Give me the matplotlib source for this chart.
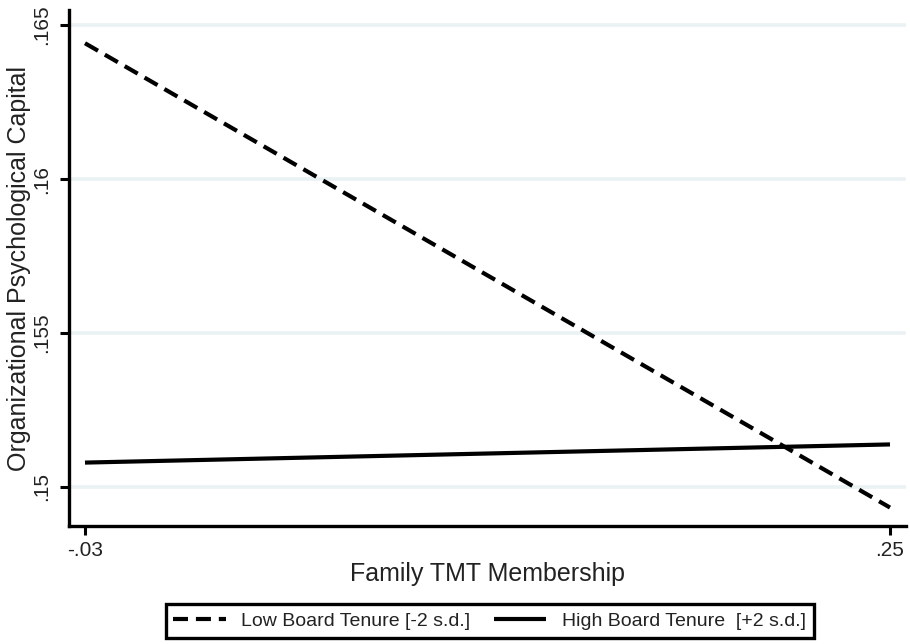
import matplotlib
matplotlib.use('Agg')
import matplotlib.pyplot as plt

# Data
x_vals = [-0.03, 0.25]
low_tenure = [0.16441, 0.14933]
high_tenure = [0.15079, 0.15138]
y_ticks = [0.15, 0.155, 0.16, 0.165]
y_ticklabels = ['.15', '.155', '.16', '.165']
x_ticklabels = ['-.03', '.25']
labels = ['Low Board Tenure [-2 s.d.]', 'High Board Tenure  [+2 s.d.]']

plt.rcParams['font.family'] = ['Liberation Sans', 'DejaVu Sans']

fig = plt.figure(figsize=(9.1, 6.44), dpi=100)
ax = fig.add_axes([0.0758, 0.1832, 0.9198, 0.8013])

# light horizontal grid like Stata's
for yv in y_ticks:
    ax.axhline(yv, color='#eaf2f3', lw=2.6, zorder=0)

ax.plot(x_vals, low_tenure, color='black', lw=3, dashes=(3.6, 1.9),
        solid_capstyle='butt', dash_capstyle='butt', label=labels[0])
ax.plot(x_vals, high_tenure, color='black', lw=3,
        solid_capstyle='butt', label=labels[1])

ax.set_xlim(-0.03557, 0.25557)
ax.set_ylim(0.14873, 0.16549)

ax.set_xticks(x_vals)
ax.set_xticklabels(x_ticklabels)
ax.set_yticks(y_ticks)
ax.set_yticklabels(y_ticklabels, rotation=90, va='center')

ax.tick_params(axis='both', direction='out', length=6.5, width=2.2,
               color='black', labelcolor='#222222', labelsize=15)
ax.tick_params(axis='y', pad=6)
ax.tick_params(axis='x', pad=4)

for side in ['top', 'right']:
    ax.spines[side].set_visible(False)
for side in ['left', 'bottom']:
    ax.spines[side].set_linewidth(2.4)
    ax.spines[side].set_color('black')

ax.set_xlabel('Family TMT Membership', fontsize=18, color='#222222', labelpad=2)
ax.set_ylabel('Organizational Psychological Capital', fontsize=18,
              color='#222222', labelpad=1)

leg = fig.legend(loc='center', bbox_to_anchor=(0.538, 0.0357), ncol=2,
                 fontsize=14, frameon=True, fancybox=False, framealpha=1,
                 handlelength=2.7, handletextpad=0.8, columnspacing=1.2,
                 borderpad=0.4, borderaxespad=0)
leg.get_frame().set_edgecolor('black')
leg.get_frame().set_linewidth(2.4)
for t in leg.get_texts():
    t.set_color('#222222')

plt.savefig('out.png', dpi=100, facecolor='white')
